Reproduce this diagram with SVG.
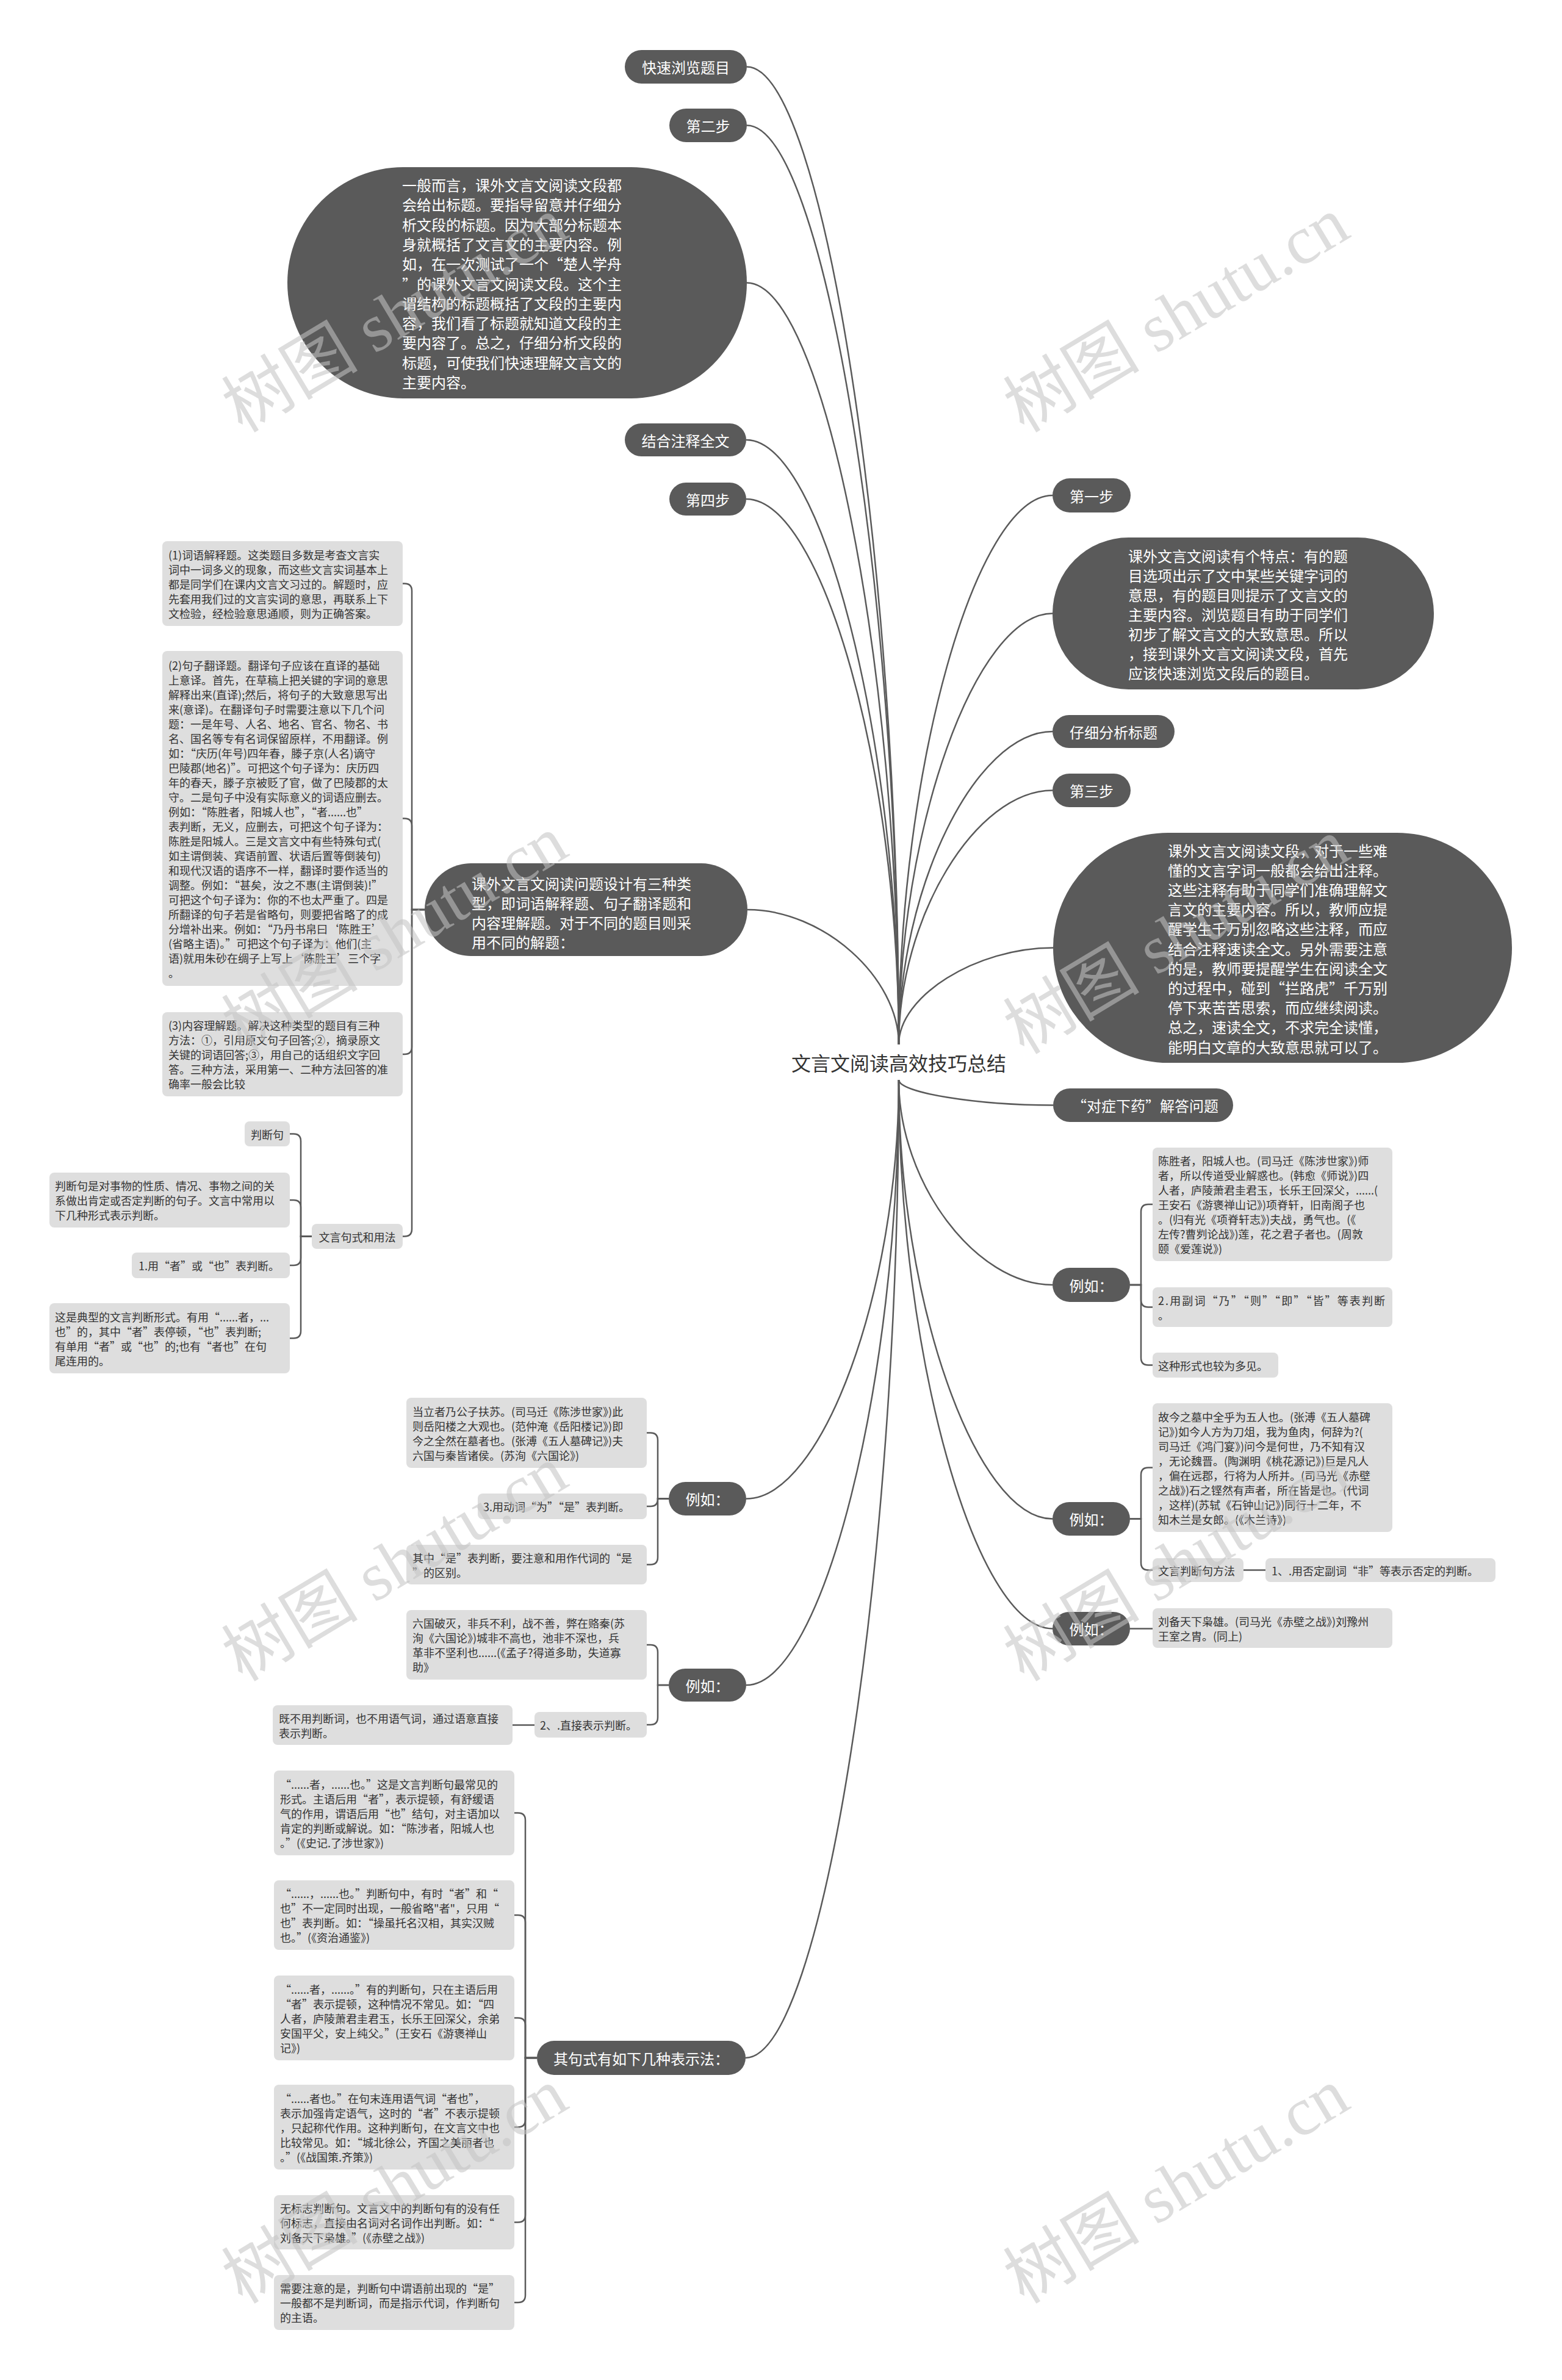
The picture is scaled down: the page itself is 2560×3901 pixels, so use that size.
<svg xmlns="http://www.w3.org/2000/svg" width="2560" height="3901" viewBox="0 0 2560 3901">
<style>
.d{fill:#5a5a5a}
.l{fill:#dedede}
.tw{fill:#ffffff;font-family:"Noto Sans CJK SC","Noto Sans",sans-serif;font-size:24px;dominant-baseline:central}
.tl{fill:#333333;font-family:"Noto Sans CJK SC","Noto Sans",sans-serif;font-size:18px;dominant-baseline:central}
.tr{fill:#333333;font-family:"Noto Sans CJK SC","Noto Sans",sans-serif;font-size:32px;dominant-baseline:central}
.m{text-anchor:middle}
.c{fill:none;stroke:#5a5a5a;stroke-width:2.5}
.wm{fill:#c4c4c4;opacity:0.56;font-family:"Liberation Serif","Noto Sans CJK SC",serif;font-size:112px;text-anchor:middle;dominant-baseline:central}
</style>
<rect width="2560" height="3901" fill="#ffffff"/>
<g id="connectors">
<path class="c" d="M1224 109.5 C1348.5 109.5 1473 910.8 1473 1712"/>
<path class="c" d="M1224 205.5 C1348.5 205.5 1473 958.8 1473 1712"/>
<path class="c" d="M1224 463.5 C1348.5 463.5 1473 1087.8 1473 1712"/>
<path class="c" d="M1223 721 C1348 721 1473 1216.5 1473 1712"/>
<path class="c" d="M1223 818 C1348 818 1473 1265 1473 1712"/>
<path class="c" d="M1225 1491 C1349 1491 1473 1601.5 1473 1712"/>
<path class="c" d="M1725 812 C1599 812 1473 1262 1473 1712"/>
<path class="c" d="M1725 1005.5 C1599 1005.5 1473 1358.8 1473 1712"/>
<path class="c" d="M1725 1199 C1599 1199 1473 1455.5 1473 1712"/>
<path class="c" d="M1725 1295.5 C1599 1295.5 1473 1503.8 1473 1712"/>
<path class="c" d="M1726 1553.5 C1599.5 1553.5 1473 1632.8 1473 1712"/>
<path class="c" d="M1726 1811.5 C1599.5 1811.5 1473 1790.8 1473 1770"/>
<path class="c" d="M1725 2106 C1599 2106 1473 1938 1473 1770"/>
<path class="c" d="M1725 2489.5 C1599 2489.5 1473 2129.8 1473 1770"/>
<path class="c" d="M1725 2669.5 C1599 2669.5 1473 2219.8 1473 1770"/>
<path class="c" d="M1223 2456.5 C1348 2456.5 1473 2113.3 1473 1770"/>
<path class="c" d="M1223 2762 C1348 2762 1473 2266 1473 1770"/>
<path class="c" d="M1222 3373 C1347.5 3373 1473 2571.5 1473 1770"/>
<path class="c" d="M696 1491 H675 V968.5 Q675 956.5 663 956.5 H660"/>
<path class="c" d="M696 1491 H675 V1353.5 Q675 1341.5 663 1341.5 H660"/>
<path class="c" d="M696 1491 H675 V1716 Q675 1728 663 1728 H660"/>
<path class="c" d="M696 1491 H675 V2014.5 Q675 2026.5 663 2026.5 H660"/>
<path class="c" d="M511 2026.5 H493 V1870.5 Q493 1858.5 481 1858.5 H475"/>
<path class="c" d="M511 2026.5 H493 V1979 Q493 1967 481 1967 H475"/>
<path class="c" d="M511 2026.5 H493 V2062 Q493 2074 481 2074 H475"/>
<path class="c" d="M511 2026.5 H493 V2181.5 Q493 2193.5 481 2193.5 H475"/>
<path class="c" d="M1096 2456.5 H1078 V2360.5 Q1078 2348.5 1066 2348.5 H1060"/>
<path class="c" d="M1096 2456.5 H1078 V2457 Q1078 2469 1066 2469 H1060"/>
<path class="c" d="M1096 2456.5 H1078 V2552.5 Q1078 2564.5 1066 2564.5 H1060"/>
<path class="c" d="M1096 2762 H1078 V2708 Q1078 2696 1066 2696 H1060"/>
<path class="c" d="M1096 2762 H1078 V2815 Q1078 2827 1066 2827 H1060"/>
<path class="c" d="M876 2827.5 H840"/>
<path class="c" d="M880 3373 H861 V2983.5 Q861 2971.5 849 2971.5 H843"/>
<path class="c" d="M880 3373 H861 V3151 Q861 3139 849 3139 H843"/>
<path class="c" d="M880 3373 H861 V3319.5 Q861 3307.5 849 3307.5 H843"/>
<path class="c" d="M880 3373 H861 V3474.5 Q861 3486.5 849 3486.5 H843"/>
<path class="c" d="M880 3373 H861 V3630.5 Q861 3642.5 849 3642.5 H843"/>
<path class="c" d="M880 3373 H861 V3762 Q861 3774 849 3774 H843"/>
<path class="c" d="M1852 2106 H1870 V1986 Q1870 1974 1882 1974 H1889"/>
<path class="c" d="M1852 2106 H1870 V2130.5 Q1870 2142.5 1882 2142.5 H1889"/>
<path class="c" d="M1852 2106 H1870 V2225.5 Q1870 2237.5 1882 2237.5 H1889"/>
<path class="c" d="M1852 2489.5 H1870 V2417.5 Q1870 2405.5 1882 2405.5 H1889"/>
<path class="c" d="M1852 2489.5 H1870 V2561.5 Q1870 2573.5 1882 2573.5 H1889"/>
<path class="c" d="M2038 2573.5 H2074"/>
<path class="c" d="M1852 2669.5 H1889"/>
</g>
<g id="root"><rect x="1290" y="1716" width="366" height="50" fill="#ffffff"/><text class="tr m" x="1473" y="1741">文言文阅读高效技巧总结</text></g>
<g id="n-kslt"><rect class="d" x="1024" y="82" width="200" height="55" rx="27.5"/><text class="tw m" x="1124" y="109.5">快速浏览题目</text></g>
<g id="n-step2"><rect class="d" x="1097" y="178" width="127" height="55" rx="27.5"/><text class="tw m" x="1160.5" y="205.5">第二步</text></g>
<g id="n-oval1"><rect class="d" x="471" y="274" width="753" height="379" rx="189.5"/><text class="tw"><tspan x="659" y="302">一般而言，课外文言文阅读文段都</tspan><tspan x="659" y="334.3">会给出标题。要指导留意并仔细分</tspan><tspan x="659" y="366.6">析文段的标题。因为大部分标题本</tspan><tspan x="659" y="398.9">身就概括了文言文的主要内容。例</tspan><tspan x="659" y="431.2">如，在一次测试了一个“楚人学舟</tspan><tspan x="659" y="463.5">”的课外文言文阅读文段。这个主</tspan><tspan x="659" y="495.8">谓结构的标题概括了文段的主要内</tspan><tspan x="659" y="528.1">容，我们看了标题就知道文段的主</tspan><tspan x="659" y="560.4">要内容了。总之，仔细分析文段的</tspan><tspan x="659" y="592.7">标题，可使我们快速理解文言文的</tspan><tspan x="659" y="625">主要内容。</tspan></text></g>
<g id="n-jhzs"><rect class="d" x="1024" y="694" width="199" height="54" rx="27"/><text class="tw m" x="1123.5" y="721">结合注释全文</text></g>
<g id="n-step4"><rect class="d" x="1097" y="791" width="126" height="54" rx="27"/><text class="tw m" x="1160" y="818">第四步</text></g>
<g id="n-types"><rect class="d" x="696" y="1415" width="529" height="152" rx="76"/><text class="tw"><tspan x="773" y="1447">课外文言文阅读问题设计有三种类</tspan><tspan x="773" y="1479">型，即词语解释题、句子翻译题和</tspan><tspan x="773" y="1511">内容理解题。对于不同的题目则采</tspan><tspan x="773" y="1543">用不同的解题：</tspan></text></g>
<g id="n-t1"><rect class="l" x="266" y="887" width="394" height="139" rx="8"/><text class="tl"><tspan x="276" y="908.5">(1)词语解释题。这类题目多数是考查文言实</tspan><tspan x="276" y="932.5">词中一词多义的现象，而这些文言实词基本上</tspan><tspan x="276" y="956.5">都是同学们在课内文言文习过的。解题时，应</tspan><tspan x="276" y="980.5">先套用我们过的文言实词的意思，再联系上下</tspan><tspan x="276" y="1004.5">文检验，经检验意思通顺，则为正确答案。</tspan></text></g>
<g id="n-t2"><rect class="l" x="266" y="1067" width="394" height="549" rx="8"/><text class="tl"><tspan x="276" y="1089.5">(2)句子翻译题。翻译句子应该在直译的基础</tspan><tspan x="276" y="1113.5">上意译。首先，在草稿上把关键的字词的意思</tspan><tspan x="276" y="1137.5">解释出来(直译);然后，将句子的大致意思写出</tspan><tspan x="276" y="1161.5">来(意译)。在翻译句子时需要注意以下几个问</tspan><tspan x="276" y="1185.5">题：一是年号、人名、地名、官名、物名、书</tspan><tspan x="276" y="1209.5">名、国名等专有名词保留原样，不用翻译。例</tspan><tspan x="276" y="1233.5">如：“庆历(年号)四年春，滕子京(人名)谪守</tspan><tspan x="276" y="1257.5">巴陵郡(地名)”。可把这个句子译为：庆历四</tspan><tspan x="276" y="1281.5">年的春天，滕子京被贬了官，做了巴陵郡的太</tspan><tspan x="276" y="1305.5">守。二是句子中没有实际意义的词语应删去。</tspan><tspan x="276" y="1329.5">例如：“陈胜者，阳城人也”，“者......也”</tspan><tspan x="276" y="1353.5">表判断，无义，应删去，可把这个句子译为：</tspan><tspan x="276" y="1377.5">陈胜是阳城人。三是文言文中有些特殊句式(</tspan><tspan x="276" y="1401.5">如主谓倒装、宾语前置、状语后置等倒装句)</tspan><tspan x="276" y="1425.5">和现代汉语的语序不一样，翻译时要作适当的</tspan><tspan x="276" y="1449.5">调整。例如：“甚矣，汝之不惠(主谓倒装)!”</tspan><tspan x="276" y="1473.5">可把这个句子译为：你的不也太严重了。四是</tspan><tspan x="276" y="1497.5">所翻译的句子若是省略句，则要把省略了的成</tspan><tspan x="276" y="1521.5">分增补出来。例如：“乃丹书帛曰‘陈胜王’</tspan><tspan x="276" y="1545.5">(省略主语)。”可把这个句子译为：他们(主</tspan><tspan x="276" y="1569.5">语)就用朱砂在绸子上写上‘陈胜王’三个字</tspan><tspan x="276" y="1593.5">。</tspan></text></g>
<g id="n-t3"><rect class="l" x="266" y="1659" width="394" height="138" rx="8"/><text class="tl"><tspan x="276" y="1680">(3)内容理解题。解决这种类型的题目有三种</tspan><tspan x="276" y="1704">方法：①，引用原文句子回答;②，摘录原文</tspan><tspan x="276" y="1728">关键的词语回答;③，用自己的话组织文字回</tspan><tspan x="276" y="1752">答。三种方法，采用第一、二种方法回答的准</tspan><tspan x="276" y="1776">确率一般会比较</tspan></text></g>
<g id="n-jsyf"><rect class="l" x="511" y="2006" width="149" height="41" rx="8"/><text class="tl m" x="585.5" y="2026.5">文言句式和用法</text></g>
<g id="n-pdj"><rect class="l" x="401" y="1838" width="74" height="41" rx="8"/><text class="tl m" x="438" y="1858.5">判断句</text></g>
<g id="n-pdj-def"><rect class="l" x="81" y="1922" width="394" height="90" rx="8"/><text class="tl"><tspan x="90" y="1943">判断句是对事物的性质、情况、事物之间的关</tspan><tspan x="90" y="1967">系做出肯定或否定判断的句子。文言中常用以</tspan><tspan x="90" y="1991">下几种形式表示判断。</tspan></text></g>
<g id="n-zheye"><rect class="l" x="216" y="2053" width="259" height="42" rx="8"/><text class="tl" x="227" y="2074">1.用“者”或“也”表判断。</text></g>
<g id="n-dianxing"><rect class="l" x="81" y="2136" width="394" height="115" rx="8"/><text class="tl"><tspan x="90" y="2157.5">这是典型的文言判断形式。有用“......者，...</tspan><tspan x="90" y="2181.5">也”的，其中“者”表停顿，“也”表判断;</tspan><tspan x="90" y="2205.5">有单用“者”或“也”的;也有“者也”在句</tspan><tspan x="90" y="2229.5">尾连用的。</tspan></text></g>
<g id="n-step1"><rect class="d" x="1725" y="784" width="128" height="56" rx="28"/><text class="tw m" x="1789" y="812">第一步</text></g>
<g id="n-oval2"><rect class="d" x="1725" y="881" width="625" height="249" rx="124.5"/><text class="tw"><tspan x="1849" y="909.5">课外文言文阅读有个特点：有的题</tspan><tspan x="1849" y="941.5">目选项出示了文中某些关键字词的</tspan><tspan x="1849" y="973.5">意思，有的题目则提示了文言文的</tspan><tspan x="1849" y="1005.5">主要内容。浏览题目有助于同学们</tspan><tspan x="1849" y="1037.5">初步了解文言文的大致意思。所以</tspan><tspan x="1849" y="1069.5">，接到课外文言文阅读文段，首先</tspan><tspan x="1849" y="1101.5">应该快速浏览文段后的题目。</tspan></text></g>
<g id="n-zxfx"><rect class="d" x="1725" y="1172" width="200" height="54" rx="27"/><text class="tw m" x="1825" y="1199">仔细分析标题</text></g>
<g id="n-step3"><rect class="d" x="1725" y="1268" width="128" height="55" rx="27.5"/><text class="tw m" x="1789" y="1295.5">第三步</text></g>
<g id="n-oval3"><rect class="d" x="1726" y="1365" width="752" height="377" rx="188.5"/><text class="tw"><tspan x="1914" y="1392.5">课外文言文阅读文段，对于一些难</tspan><tspan x="1914" y="1424.7">懂的文言字词一般都会给出注释。</tspan><tspan x="1914" y="1456.9">这些注释有助于同学们准确理解文</tspan><tspan x="1914" y="1489.1">言文的主要内容。所以，教师应提</tspan><tspan x="1914" y="1521.3">醒学生千万别忽略这些注释，而应</tspan><tspan x="1914" y="1553.5">结合注释速读全文。另外需要注意</tspan><tspan x="1914" y="1585.7">的是，教师要提醒学生在阅读全文</tspan><tspan x="1914" y="1617.9">的过程中，碰到“拦路虎”千万别</tspan><tspan x="1914" y="1650.1">停下来苦苦思索，而应继续阅读。</tspan><tspan x="1914" y="1682.3">总之，速读全文，不求完全读懂，</tspan><tspan x="1914" y="1714.5">能明白文章的大致意思就可以了。</tspan></text></g>
<g id="n-dzxy"><rect class="d" x="1726" y="1784" width="295" height="55" rx="27.5"/><text class="tw m" x="1877" y="1811.5">“对症下药”解答问题</text></g>
<g id="n-egR1"><rect class="d" x="1725" y="2078" width="127" height="56" rx="28"/><text class="tw m" x="1788.5" y="2106">例如：</text></g>
<g id="n-rA"><rect class="l" x="1889" y="1881" width="393" height="186" rx="8"/><text class="tl"><tspan x="1898" y="1902">陈胜者，阳城人也。(司马迁《陈涉世家》)师</tspan><tspan x="1898" y="1926">者，所以传道受业解惑也。(韩愈《师说》)四</tspan><tspan x="1898" y="1950">人者，庐陵萧君圭君玉，长乐王回深父，......(</tspan><tspan x="1898" y="1974">王安石《游褒禅山记》)项脊轩，旧南阁子也</tspan><tspan x="1898" y="1998">。(归有光《项脊轩志》)夫战，勇气也。(《</tspan><tspan x="1898" y="2022">左传?曹刿论战》)莲，花之君子者也。(周敦</tspan><tspan x="1898" y="2046">颐《爱莲说》)</tspan></text></g>
<g id="n-rB"><rect class="l" x="1889" y="2110" width="393" height="65" rx="8"/><text class="tl" x="1898" y="2130.5" textLength="372" lengthAdjust="spacing">2.用副词“乃”“则”“即”“皆”等表判断</text><text class="tl" x="1898" y="2154.5">。</text></g>
<g id="n-rC"><rect class="l" x="1889" y="2217" width="206" height="41" rx="8"/><text class="tl" x="1898" y="2237.5">这种形式也较为多见。</text></g>
<g id="n-egR2"><rect class="d" x="1725" y="2462" width="127" height="55" rx="27.5"/><text class="tw m" x="1788.5" y="2489.5">例如：</text></g>
<g id="n-rD"><rect class="l" x="1889" y="2300" width="393" height="211" rx="8"/><text class="tl"><tspan x="1898" y="2321.5">故今之墓中全乎为五人也。(张溥《五人墓碑</tspan><tspan x="1898" y="2345.5">记》)如今人方为刀俎，我为鱼肉，何辞为?(</tspan><tspan x="1898" y="2369.5">司马迁《鸿门宴》)问今是何世，乃不知有汉</tspan><tspan x="1898" y="2393.5">，无论魏晋。(陶渊明《桃花源记》)巨是凡人</tspan><tspan x="1898" y="2417.5">，偏在远郡，行将为人所并。(司马光《赤壁</tspan><tspan x="1898" y="2441.5">之战》)石之铿然有声者，所在皆是也。(代词</tspan><tspan x="1898" y="2465.5">，这样)(苏轼《石钟山记》)同行十二年，不</tspan><tspan x="1898" y="2489.5">知木兰是女郎。(《木兰诗》)</tspan></text></g>
<g id="n-rE"><rect class="l" x="1889" y="2554" width="149" height="39" rx="8"/><text class="tl" x="1898" y="2573.5">文言判断句方法</text></g>
<g id="n-rF"><rect class="l" x="2074" y="2554" width="377" height="39" rx="8"/><text class="tl" x="2084" y="2573.5">1、.用否定副词“非”等表示否定的判断。</text></g>
<g id="n-egR3"><rect class="d" x="1725" y="2642" width="127" height="55" rx="27.5"/><text class="tw m" x="1788.5" y="2669.5">例如：</text></g>
<g id="n-rG"><rect class="l" x="1889" y="2636" width="393" height="65" rx="8"/><text class="tl"><tspan x="1898" y="2656.5">刘备天下枭雄。(司马光《赤壁之战》)刘豫州</tspan><tspan x="1898" y="2680.5">王室之胄。(同上)</tspan></text></g>
<g id="n-egL1"><rect class="d" x="1096" y="2429" width="127" height="55" rx="27.5"/><text class="tw m" x="1159.5" y="2456.5">例如：</text></g>
<g id="n-mF"><rect class="l" x="666" y="2291" width="394" height="115" rx="8"/><text class="tl"><tspan x="676" y="2312.5">当立者乃公子扶苏。(司马迁《陈涉世家》)此</tspan><tspan x="676" y="2336.5">则岳阳楼之大观也。(范仲淹《岳阳楼记》)即</tspan><tspan x="676" y="2360.5">今之全然在墓者也。(张溥《五人墓碑记》)夫</tspan><tspan x="676" y="2384.5">六国与秦皆诸侯。(苏洵《六国论》)</tspan></text></g>
<g id="n-mG"><rect class="l" x="783" y="2448" width="277" height="42" rx="8"/><text class="tl" x="792" y="2469">3.用动词“为”“是”表判断。</text></g>
<g id="n-mH"><rect class="l" x="666" y="2532" width="394" height="65" rx="8"/><text class="tl"><tspan x="676" y="2552.5">其中“是”表判断，要注意和用作代词的“是</tspan><tspan x="676" y="2576.5">”的区别。</tspan></text></g>
<g id="n-egL2"><rect class="d" x="1096" y="2735" width="127" height="54" rx="27"/><text class="tw m" x="1159.5" y="2762">例如：</text></g>
<g id="n-mI"><rect class="l" x="666" y="2639" width="394" height="114" rx="8"/><text class="tl"><tspan x="676" y="2660">六国破灭，非兵不利，战不善，弊在赂秦(苏</tspan><tspan x="676" y="2684">洵《六国论》)城非不高也，池非不深也，兵</tspan><tspan x="676" y="2708">革非不坚利也......(《孟子?得道多助，失道寡</tspan><tspan x="676" y="2732">助》</tspan></text></g>
<g id="n-mJ"><rect class="l" x="876" y="2806" width="184" height="42" rx="8"/><text class="tl" x="885" y="2827">2、.直接表示判断。</text></g>
<g id="n-mK"><rect class="l" x="447" y="2795" width="393" height="65" rx="8"/><text class="tl"><tspan x="457" y="2815.5">既不用判断词，也不用语气词，通过语意直接</tspan><tspan x="457" y="2839.5">表示判断。</tspan></text></g>
<g id="n-jsh"><rect class="d" x="880" y="3345" width="342" height="56" rx="28"/><text class="tw m" x="1051" y="3373">其句式有如下几种表示法：</text></g>
<g id="n-bL"><rect class="l" x="449" y="2902" width="394" height="139" rx="8"/><text class="tl"><tspan x="459" y="2923.5">“......者，......也。”这是文言判断句最常见的</tspan><tspan x="459" y="2947.5">形式。主语后用“者”，表示提顿，有舒缓语</tspan><tspan x="459" y="2971.5">气的作用，谓语后用“也”结句，对主语加以</tspan><tspan x="459" y="2995.5">肯定的判断或解说。如：“陈涉者，阳城人也</tspan><tspan x="459" y="3019.5">。”(《史记.了涉世家》)</tspan></text></g>
<g id="n-bM"><rect class="l" x="449" y="3082" width="394" height="114" rx="8"/><text class="tl"><tspan x="459" y="3103">“......，......也。”判断句中，有时“者”和“</tspan><tspan x="459" y="3127">也”不一定同时出现，一般省略"者"，只用“</tspan><tspan x="459" y="3151">也”表判断。如：“操虽托名汉相，其实汉贼</tspan><tspan x="459" y="3175">也。”(《资治通鉴》)</tspan></text></g>
<g id="n-bN"><rect class="l" x="449" y="3238" width="394" height="139" rx="8"/><text class="tl"><tspan x="459" y="3259.5">“......者，......。”有的判断句，只在主语后用</tspan><tspan x="459" y="3283.5">“者”表示提顿，这种情况不常见。如：“四</tspan><tspan x="459" y="3307.5">人者，庐陵萧君圭君玉，长乐王回深父，余弟</tspan><tspan x="459" y="3331.5">安国平父，安上纯父。”(王安石《游褒禅山</tspan><tspan x="459" y="3355.5">记》)</tspan></text></g>
<g id="n-bO"><rect class="l" x="449" y="3417" width="394" height="139" rx="8"/><text class="tl"><tspan x="459" y="3438.5">“......者也。”在句末连用语气词“者也”，</tspan><tspan x="459" y="3462.5">表示加强肯定语气，这时的“者”不表示提顿</tspan><tspan x="459" y="3486.5">，只起称代作用。这种判断句，在文言文中也</tspan><tspan x="459" y="3510.5">比较常见。如：“城北徐公，齐国之美丽者也</tspan><tspan x="459" y="3534.5">。”(《战国策.齐策》)</tspan></text></g>
<g id="n-bP"><rect class="l" x="449" y="3598" width="394" height="89" rx="8"/><text class="tl"><tspan x="459" y="3618.5">无标志判断句。文言文中的判断句有的没有任</tspan><tspan x="459" y="3642.5">何标志，直接由名词对名词作出判断。如：“</tspan><tspan x="459" y="3666.5">刘备天下枭雄。”(《赤壁之战》)</tspan></text></g>
<g id="n-bQ"><rect class="l" x="449" y="3729" width="394" height="90" rx="8"/><text class="tl"><tspan x="459" y="3750">需要注意的是，判断句中谓语前出现的“是”</tspan><tspan x="459" y="3774">一般都不是判断词，而是指示代词，作判断句</tspan><tspan x="459" y="3798">的主语。</tspan></text></g>
<g id="watermarks">
<text class="wm" transform="translate(647 516) rotate(-31)">树图 shutu.cn</text>
<text class="wm" transform="translate(1928 516) rotate(-31)">树图 shutu.cn</text>
<text class="wm" transform="translate(647 1530) rotate(-31)">树图 shutu.cn</text>
<text class="wm" transform="translate(1928 1535) rotate(-31)">树图 shutu.cn</text>
<text class="wm" transform="translate(647 2563) rotate(-31)">树图 shutu.cn</text>
<text class="wm" transform="translate(1928 2563) rotate(-31)">树图 shutu.cn</text>
<text class="wm" transform="translate(647 3583) rotate(-31)">树图 shutu.cn</text>
<text class="wm" transform="translate(1928 3583) rotate(-31)">树图 shutu.cn</text>
</g>
</svg>
